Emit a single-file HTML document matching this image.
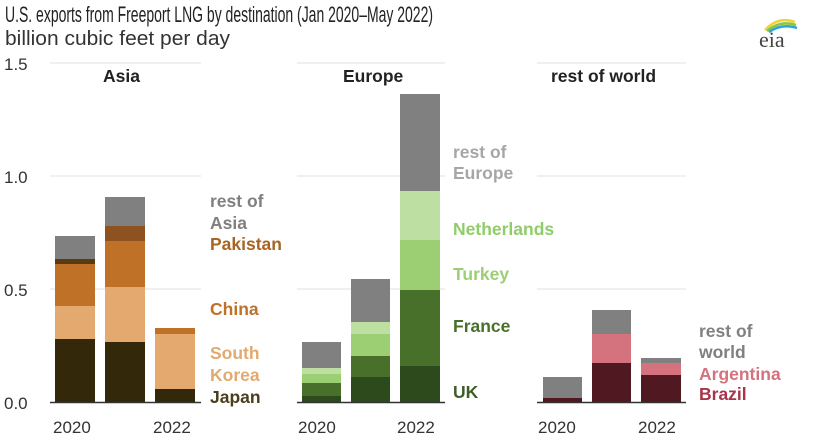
<!DOCTYPE html>
<html><head><meta charset="utf-8"><style>
html,body{margin:0;padding:0;background:#fff;}
svg{display:block;font-family:"Liberation Sans",Arial,sans-serif;}
.l{font-size:17.5px;font-weight:bold;}
.t{font-size:17px;fill:#333;}
</style></head><body>
<svg width="813" height="447" viewBox="0 0 813 447">
<text x="5" y="22" font-size="22" fill="#222" textLength="428" lengthAdjust="spacingAndGlyphs">U.S. exports from Freeport LNG by destination (Jan 2020–May 2022)</text>
<text x="5" y="45" font-size="20" fill="#333" textLength="225" lengthAdjust="spacingAndGlyphs">billion cubic feet per day</text>
<path d="M765 30 Q778 16 795 22" stroke="#f2d23c" stroke-width="2.5" fill="none"/>
<path d="M767 31 Q780 20 796 25" stroke="#8cc63f" stroke-width="2.5" fill="none"/>
<path d="M769 32 Q782 23 797 28" stroke="#2aa5d8" stroke-width="2.5" fill="none"/>
<text x="759" y="47" font-family="Liberation Serif,serif" font-size="22" fill="#444">eia</text>
<g class="t" font-size="18"><text x="4" y="70">1.5</text><text x="4" y="183">1.0</text><text x="4" y="296">0.5</text><text x="4" y="409">0.0</text></g>
<g stroke="#e6e6e6" stroke-width="1.2">
<line x1="50" x2="201" y1="63" y2="63"/><line x1="50" x2="201" y1="176" y2="176"/><line x1="50" x2="201" y1="289" y2="289"/>
<line x1="297" x2="445" y1="63" y2="63"/><line x1="297" x2="445" y1="176" y2="176"/><line x1="297" x2="445" y1="289" y2="289"/>
<line x1="537" x2="686" y1="63" y2="63"/><line x1="537" x2="686" y1="176" y2="176"/><line x1="537" x2="686" y1="289" y2="289"/>
</g>
<rect x="55" y="236" width="40" height="23" fill="#808080"/>
<rect x="55" y="259" width="40" height="5" fill="#5b3a12"/>
<rect x="55" y="264" width="40" height="42" fill="#bf7128"/>
<rect x="55" y="306" width="40" height="33" fill="#e3a96f"/>
<rect x="55" y="339" width="40" height="63" fill="#33280a"/>
<rect x="105" y="197" width="40" height="29" fill="#808080"/>
<rect x="105" y="226" width="40" height="15" fill="#8d5220"/>
<rect x="105" y="241" width="40" height="46" fill="#bf7128"/>
<rect x="105" y="287" width="40" height="55" fill="#e3a96f"/>
<rect x="105" y="342" width="40" height="60" fill="#33280a"/>
<rect x="155" y="328" width="40" height="6" fill="#bf7128"/>
<rect x="155" y="334" width="40" height="55" fill="#e3a96f"/>
<rect x="155" y="389" width="40" height="13" fill="#33280a"/>
<rect x="302" y="342" width="39" height="26" fill="#808080"/>
<rect x="302" y="368" width="39" height="6" fill="#bde0a2"/>
<rect x="302" y="374" width="39" height="9" fill="#9ccf74"/>
<rect x="302" y="383" width="39" height="13" fill="#48702a"/>
<rect x="302" y="396" width="39" height="6" fill="#2d4a1c"/>
<rect x="351" y="279" width="39" height="43" fill="#808080"/>
<rect x="351" y="322" width="39" height="12" fill="#bde0a2"/>
<rect x="351" y="334" width="39" height="22" fill="#9ccf74"/>
<rect x="351" y="356" width="39" height="21" fill="#48702a"/>
<rect x="351" y="377" width="39" height="25" fill="#2d4a1c"/>
<rect x="400" y="94" width="40" height="97" fill="#808080"/>
<rect x="400" y="191" width="40" height="49" fill="#bde0a2"/>
<rect x="400" y="240" width="40" height="50" fill="#9ccf74"/>
<rect x="400" y="290" width="40" height="76" fill="#48702a"/>
<rect x="400" y="366" width="40" height="36" fill="#2d4a1c"/>
<rect x="543" y="377" width="39" height="21" fill="#808080"/>
<rect x="543" y="398" width="39" height="4" fill="#501820"/>
<rect x="592" y="310" width="39" height="24" fill="#808080"/>
<rect x="592" y="334" width="39" height="29" fill="#d4737e"/>
<rect x="592" y="363" width="39" height="39" fill="#501820"/>
<rect x="641" y="358" width="40" height="5" fill="#808080"/>
<rect x="641" y="363" width="40" height="12" fill="#d4737e"/>
<rect x="641" y="375" width="40" height="27" fill="#501820"/>
<g stroke="#333" stroke-width="1.5">
<line x1="50" x2="201" y1="402.5" y2="402.5"/><line x1="297" x2="445" y1="402.5" y2="402.5"/><line x1="537" x2="686" y1="402.5" y2="402.5"/>
</g>
<g class="l" fill="#222" font-size="18">
<text x="103" y="82">Asia</text><text x="343" y="82">Europe</text><text x="551" y="82">rest of world</text>
</g>
<g class="t" font-size="18">
<text x="53" y="433">2020</text><text x="153" y="433">2022</text>
<text x="298" y="433">2020</text><text x="397" y="433">2022</text>
<text x="538" y="433">2020</text><text x="638" y="433">2022</text>
</g>
<g class="l">
<text x="210" y="207" fill="#808080">rest of</text>
<text x="210" y="229" fill="#808080">Asia</text>
<text x="210" y="250" fill="#a86424">Pakistan</text>
<text x="210" y="315" fill="#bf7128">China</text>
<text x="210" y="359" fill="#e3a96f">South</text>
<text x="210" y="381" fill="#e3a96f">Korea</text>
<text x="210" y="403" fill="#4a3f1c">Japan</text>
</g>
<g class="l">
<text x="453" y="158" fill="#a6a6a6">rest of</text>
<text x="453" y="179" fill="#a6a6a6">Europe</text>
<text x="453" y="235" fill="#8fcc6a">Netherlands</text>
<text x="453" y="280" fill="#9ccf74">Turkey</text>
<text x="453" y="332" fill="#48702a">France</text>
<text x="453" y="398" fill="#3d5e27">UK</text>
</g>
<g class="l">
<text x="699" y="337" fill="#808080">rest of</text>
<text x="699" y="358" fill="#808080">world</text>
<text x="699" y="380" fill="#d4737e">Argentina</text>
<text x="699" y="400" fill="#a8344a">Brazil</text>
</g>
</svg>
</body></html>
